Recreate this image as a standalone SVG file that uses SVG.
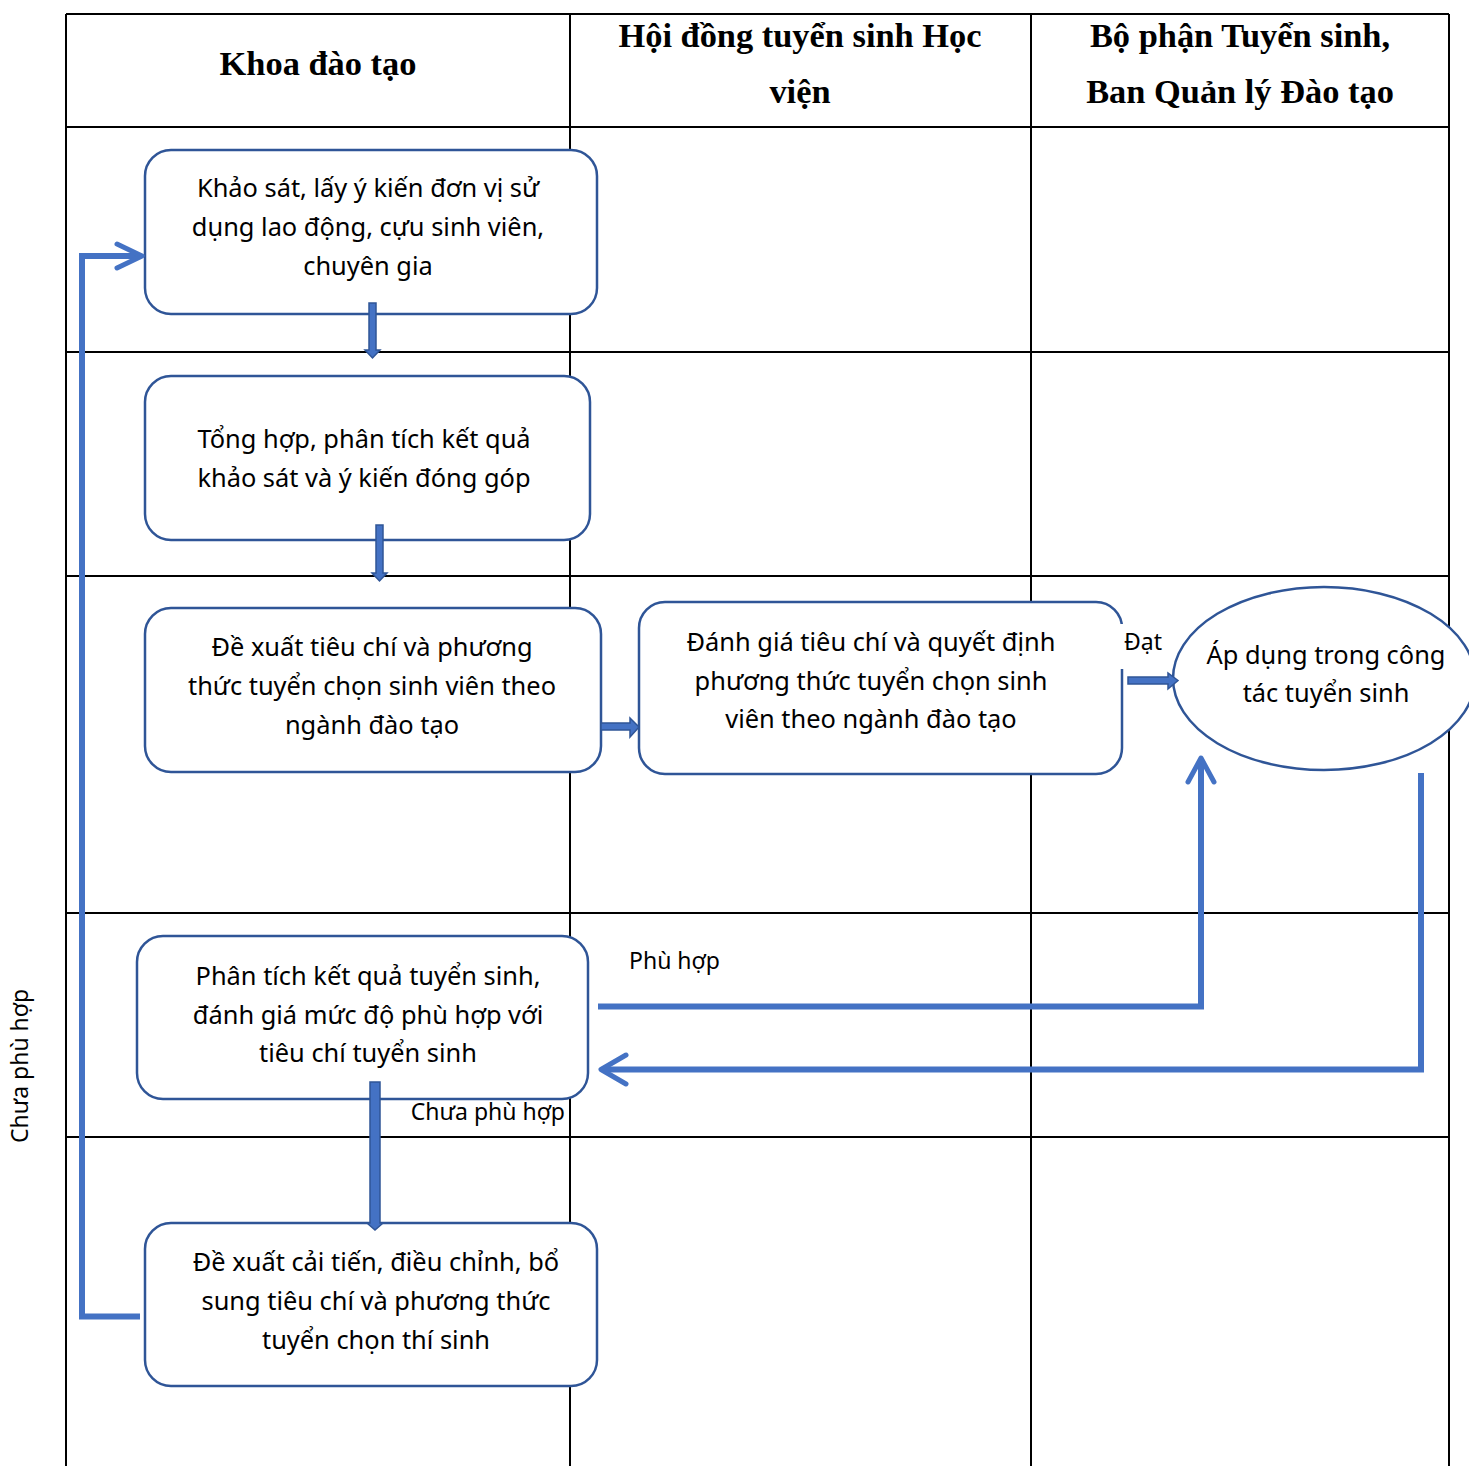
<svg xmlns="http://www.w3.org/2000/svg" width="1469" height="1466" viewBox="0 0 1469 1466">
<style>
.grid{stroke:#000;stroke-width:2;fill:none}
.hdr{font-family:"Liberation Serif",serif;font-weight:bold;font-size:34.4px;fill:#000;text-anchor:middle}
.box{fill:#fff;stroke:#2F5597;stroke-width:2.5}
.t{font-family:"Noto Sans","Open Sans",sans-serif;font-size:25.4px;fill:#000;text-anchor:middle}
.lbl{font-family:"Noto Sans","Open Sans",sans-serif;font-size:23px;fill:#000}
.blk{fill:#4472C4;stroke:#2F5597;stroke-width:1.5}
.ln{fill:none;stroke:#4472C4;stroke-width:6}
.hd{fill:none;stroke:#4472C4;stroke-width:5;stroke-linecap:round;stroke-linejoin:round}
</style>
<rect width="1469" height="1466" fill="#fff"/>
<g id="table">
<path class="grid" d="M66,14 H1449 M66,14 V1466 M1449,14 V1466 M570,14 V1466 M1031,14 V1466 M66,127 H1449 M66,352 H1449 M66,576 H1449 M66,913 H1449 M66,1137 H1449"/>
<text class="hdr" x="318" y="75">Khoa đào tạo</text>
<text class="hdr" x="800" y="47">Hội đồng tuyển sinh Học</text>
<text class="hdr" x="800" y="103">viện</text>
<text class="hdr" x="1240" y="47">Bộ phận Tuyển sinh,</text>
<text class="hdr" x="1240" y="103">Ban Quản lý Đào tạo</text>
</g>
<g id="node1">
<rect class="box" x="145" y="150" width="452" height="164" rx="26"/>
<text class="t" x="368" y="197">Khảo sát, lấy ý kiến đơn vị sử</text>
<text class="t" x="368" y="236">dụng lao động, cựu sinh viên,</text>
<text class="t" x="368" y="275">chuyên gia</text>
</g>
<g id="node2">
<rect class="box" x="145" y="376" width="445" height="164" rx="26"/>
<text class="t" x="364" y="448">Tổng hợp, phân tích kết quả</text>
<text class="t" x="364" y="487">khảo sát và ý kiến đóng góp</text>
</g>
<g id="node3">
<rect class="box" x="145" y="608" width="456" height="164" rx="26"/>
<text class="t" x="372" y="656">Đề xuất tiêu chí và phương</text>
<text class="t" x="372" y="695">thức tuyển chọn sinh viên theo</text>
<text class="t" x="372" y="734">ngành đào tạo</text>
</g>
<g id="node4">
<rect class="box" x="639" y="602" width="483" height="172" rx="26"/>
<text class="t" x="871" y="651">Đánh giá tiêu chí và quyết định</text>
<text class="t" x="871" y="690">phương thức tuyển chọn sinh</text>
<text class="t" x="871" y="728">viên theo ngành đào tạo</text>
</g>
<g id="node5">
<ellipse class="box" cx="1324" cy="678.5" rx="151" ry="91.5"/>
<text class="t" x="1326" y="664">Áp dụng trong công</text>
<text class="t" x="1326" y="702">tác tuyển sinh</text>
</g>
<g id="node6">
<rect class="box" x="137" y="936" width="451" height="163" rx="26"/>
<text class="t" x="368" y="985">Phân tích kết quả tuyển sinh,</text>
<text class="t" x="368" y="1024">đánh giá mức độ phù hợp với</text>
<text class="t" x="368" y="1062">tiêu chí tuyển sinh</text>
</g>
<g id="node7">
<rect class="box" x="145" y="1223" width="452" height="163" rx="26"/>
<text class="t" x="376" y="1271">Đề xuất cải tiến, điều chỉnh, bổ</text>
<text class="t" x="376" y="1310">sung tiêu chí và phương thức</text>
<text class="t" x="376" y="1349">tuyển chọn thí sinh</text>
</g>
<g id="connectors">
<polygon class="blk" points="369,303 376,303 376,350 380,350 372.5,358 365,350 369,350"/>
<polygon class="blk" points="376,525 383,525 383,573 387,573 379.5,581 372,573 376,573"/>
<polygon class="blk" points="601,723 630,723 630,718 639,727 630,737 630,730 601,730"/>
<rect x="1116" y="624" width="52" height="45" fill="#fff"/>
<text class="lbl" x="1143" y="650" text-anchor="middle">Đạt</text>
<polygon class="blk" points="1128,677 1168,677 1168,673 1178,680.5 1168,689 1168,684 1128,684"/>
<polygon class="blk" points="370,1082 380,1082 380,1223 383,1223 375,1230 367,1223 370,1223"/>
<path class="ln" d="M140,1316.5 H82 V256 H140"/>
<polyline class="hd" points="117,244 142,256 117,268"/>
<path class="ln" d="M598,1006.5 H1201 V762"/>
<polyline class="hd" points="1188,782 1201,758 1214,782"/>
<path class="ln" d="M1421,773 V1069.5 H602"/>
<polyline class="hd" points="626,1055 601,1069.5 626,1084"/>
<text class="lbl" x="629" y="969">Phù hợp</text>
<text class="lbl" x="565" y="1120" text-anchor="end">Chưa phù hợp</text>
<text class="lbl" x="28" y="1066" text-anchor="middle" transform="rotate(-90 28 1066)">Chưa phù hợp</text>
</g>
</svg>
